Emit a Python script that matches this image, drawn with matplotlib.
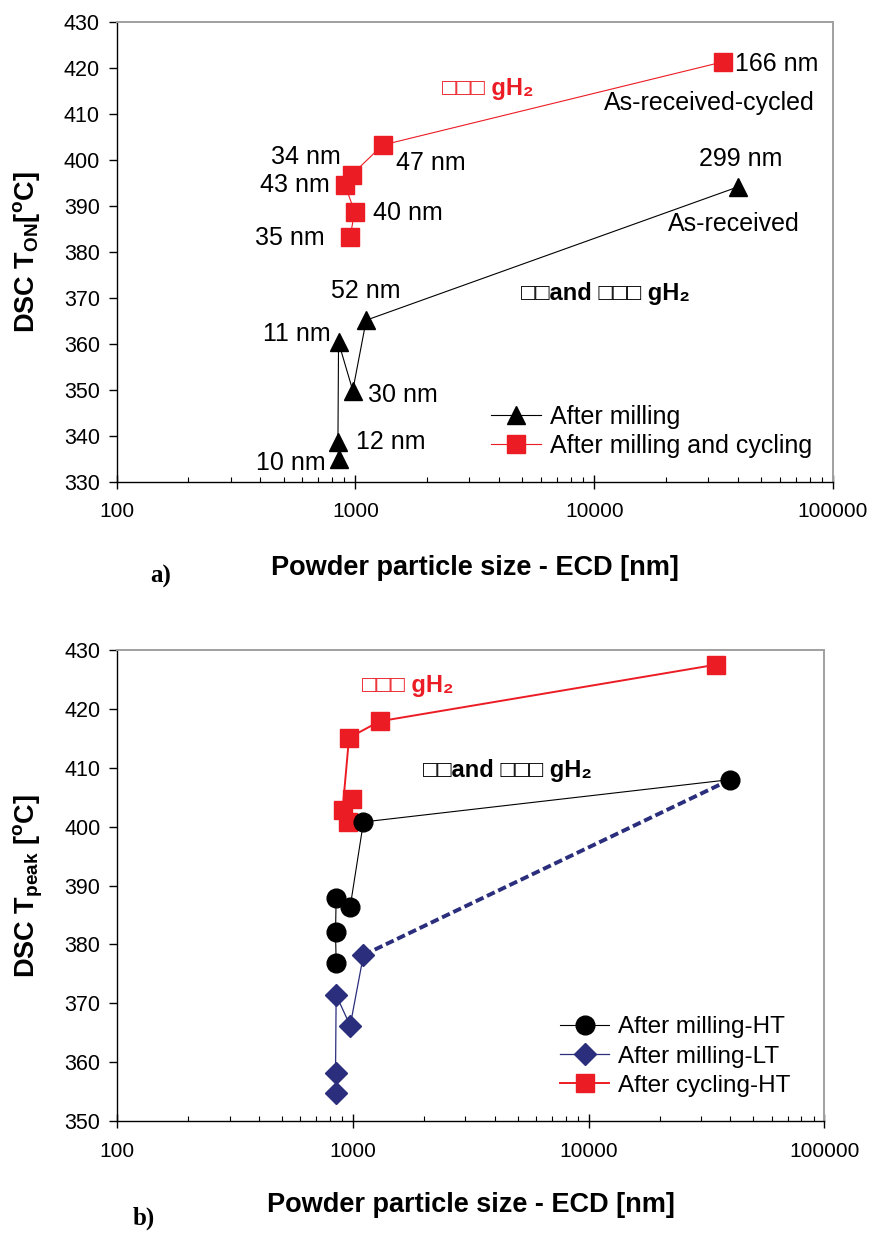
import matplotlib
matplotlib.use('Agg')
import matplotlib.pyplot as plt
from matplotlib import ticker

plt.rcParams['font.family'] = ['Liberation Sans', 'DejaVu Sans']
plt.rcParams['mathtext.fontset'] = 'custom'
plt.rcParams['mathtext.rm'] = 'Liberation Sans'
plt.rcParams['mathtext.bf'] = 'Liberation Sans:bold'
plt.rcParams['mathtext.it'] = 'Liberation Sans:italic'

# data: powder size (ECD, nm) and DSC temperatures (°C)
milled_size = [850, 845, 850, 975, 1110, 40000]
milled_cryst = ['10 nm', '12 nm', '11 nm', '30 nm', '52 nm', '299 nm']
ton_milled = [335.0, 338.6, 360.4, 349.9, 365.2, 394.2]

cycled_size = [950, 992, 905, 964, 1300, 34600]
cycled_cryst = ['35 nm', '40 nm', '43 nm', '34 nm', '47 nm', '166 nm']
ton_cycled = [383.2, 388.8, 394.6, 396.8, 403.3, 421.4]

tpeak_milled_ht = [376.9, 382.1, 387.9, 386.4, 400.8, 408.0]
tpeak_milled_lt = [354.7, 358.2, 371.4, 366.2, 378.2, 408.0]
tpeak_cycled_ht = [400.8, 404.7, 402.8, 415.1, 417.9, 427.5]

xticks = [100, 1000, 10000, 100000]

red = '#EC1C24'
navy = '#2B2E7C'
TXT = 18

# label offsets in pixels (dx, dy) and alignment
milled_offs = [(-13, -4, 'right'), (18, 0, 'left'), (-8, 8, 'right'),
               (15, -4, 'left'), (0, 29, 'center'), (3, 28, 'center')]
cycled_offs = [(-25, -1, 'right'), (18, -1, 'left'), (-15, 0, 'right'),
               (-11, 18, 'right'), (13, -18, 'left'), (12, -2, 'left')]


def style_axes(ax, ylo, yhi):
    ax.set_xscale('log')
    ax.set_xlim(100, 100000)
    ax.set_ylim(ylo, yhi)
    ax.set_yticks(range(ylo, yhi + 1, 10))
    ax.set_xticks(xticks)
    ax.set_xticklabels([str(v) for v in xticks])
    ax.xaxis.set_minor_locator(ticker.LogLocator(base=10, subs=range(2, 10)))
    ax.xaxis.set_minor_formatter(ticker.NullFormatter())
    ax.tick_params(axis='y', direction='out', length=6, width=1, labelsize=15.5, pad=6)
    ax.tick_params(axis='x', which='major', direction='inout', length=9.5, width=1,
                   labelsize=15, pad=10)
    ax.tick_params(axis='x', which='minor', direction='in', length=3.8, width=0.8)
    ax.tick_params(top=False, right=False, which='both')
    for s in ['left', 'bottom']:
        ax.spines[s].set_color('black')
        ax.spines[s].set_linewidth(1.0)
    for s in ['top', 'right']:
        ax.spines[s].set_color('#A0A0A0')
        ax.spines[s].set_linewidth(1.4)


fig = plt.figure(figsize=(8.72, 12.33), dpi=100)

# ---------- a) onset temperature ----------
ax1 = fig.add_axes([0.1337, 0.6091, 0.8216, 0.3728])
style_axes(ax1, 330, 430)

ax1.plot(milled_size, ton_milled, color='black', lw=0.8, marker='^', ms=13,
         mec='black', mfc='black', label='After milling', zorder=3)
ax1.plot(cycled_size, ton_cycled, color=red, lw=0.8, marker='s', ms=13.5,
         mec=red, mfc=red, label='After milling and cycling', zorder=3)

for x, y, t, (dx, dy, ha) in zip(milled_size, ton_milled, milled_cryst, milled_offs):
    ax1.annotate(t, (x, y), xytext=(dx, dy), textcoords='offset pixels',
                 ha=ha, va='center', fontsize=TXT)
for x, y, t, (dx, dy, ha) in zip(cycled_size, ton_cycled, cycled_cryst, cycled_offs):
    ax1.annotate(t, (x, y), xytext=(dx, dy), textcoords='offset pixels',
                 ha=ha, va='center', fontsize=TXT)

ax1.text(0.4536, 0.857, '□□□ gH₂', transform=ax1.transAxes, color=red,
         fontsize=17, fontweight='bold', ha='left', va='center')
ax1.text(0.828, 0.824, 'As-received-cycled', transform=ax1.transAxes,
         fontsize=TXT, ha='center', va='center')
ax1.text(0.861, 0.561, 'As-received', transform=ax1.transAxes,
         fontsize=TXT, ha='center', va='center')
ax1.text(0.5647, 0.4105, '□□and □□□ gH₂', transform=ax1.transAxes,
         fontsize=17, fontweight='bold', ha='left', va='center')

ax1.legend(loc='upper left', bbox_to_anchor=(0.523, 0.168), frameon=False,
           fontsize=TXT, borderpad=0, borderaxespad=0, handlelength=2.0,
           handletextpad=0.36, labelspacing=0.2)

ax1.set_xlabel('Powder particle size - ECD [nm]', fontsize=19.5, fontweight='bold')
ax1.xaxis.set_label_coords(0.5, -0.158)
ax1.set_ylabel(r'DSC T$_{\mathbf{ON}}$[$^{\mathbf{o}}$C]', fontsize=19.5, fontweight='bold')
ax1.yaxis.set_label_coords(-0.104, 0.5)
fig.text(150 / 872, 1 - 576 / 1233, 'a)', family='Liberation Serif',
         fontweight='bold', fontsize=18, ha='left', va='center')

# ---------- b) peak temperature ----------
ax2 = fig.add_axes([0.1342, 0.0908, 0.8111, 0.3820])
style_axes(ax2, 350, 430)

h_cyc, = ax2.plot(cycled_size, tpeak_cycled_ht, color=red, lw=1.4, marker='s',
                  ms=13.5, mec=red, mfc=red, label='After cycling-HT', zorder=3)
ax2.plot(milled_size[4:], tpeak_milled_lt[4:], color=navy, lw=2.8,
         dashes=(2.2, 1.0), zorder=2)
h_lt, = ax2.plot(milled_size[:5], tpeak_milled_lt[:5], color=navy, lw=0.9,
                 marker='D', ms=11, mec=navy, mfc=navy, label='After milling-LT', zorder=3)
h_ht, = ax2.plot(milled_size, tpeak_milled_ht, color='black', lw=0.8, marker='o',
                 ms=13.5, mec='black', mfc='black', label='After milling-HT', zorder=4)

ax2.text(0.3464, 0.9257, '□□□ gH₂', transform=ax2.transAxes, color=red,
         fontsize=17, fontweight='bold', ha='left', va='center')
ax2.text(0.4326, 0.745, '□□and □□□ gH₂', transform=ax2.transAxes,
         fontsize=17, fontweight='bold', ha='left', va='center')

ax2.legend(handles=[h_ht, h_lt, h_cyc], loc='upper left', bbox_to_anchor=(0.627, 0.2225),
           frameon=False, fontsize=17.5, borderpad=0, borderaxespad=0,
           handlelength=2.0, handletextpad=0.36, labelspacing=0.3)

ax2.set_xlabel('Powder particle size - ECD [nm]', fontsize=19.5, fontweight='bold')
ax2.xaxis.set_label_coords(0.5, -0.151)
ax2.set_ylabel(r'DSC T$_{\mathbf{peak}}$ [$^{\mathbf{o}}$C]', fontsize=19.5, fontweight='bold')
ax2.yaxis.set_label_coords(-0.102, 0.5)
fig.text(133 / 872, 1 - 1218 / 1233, 'b)', family='Liberation Serif',
         fontweight='bold', fontsize=18, ha='left', va='center')

fig.savefig('out.png', dpi=100)
